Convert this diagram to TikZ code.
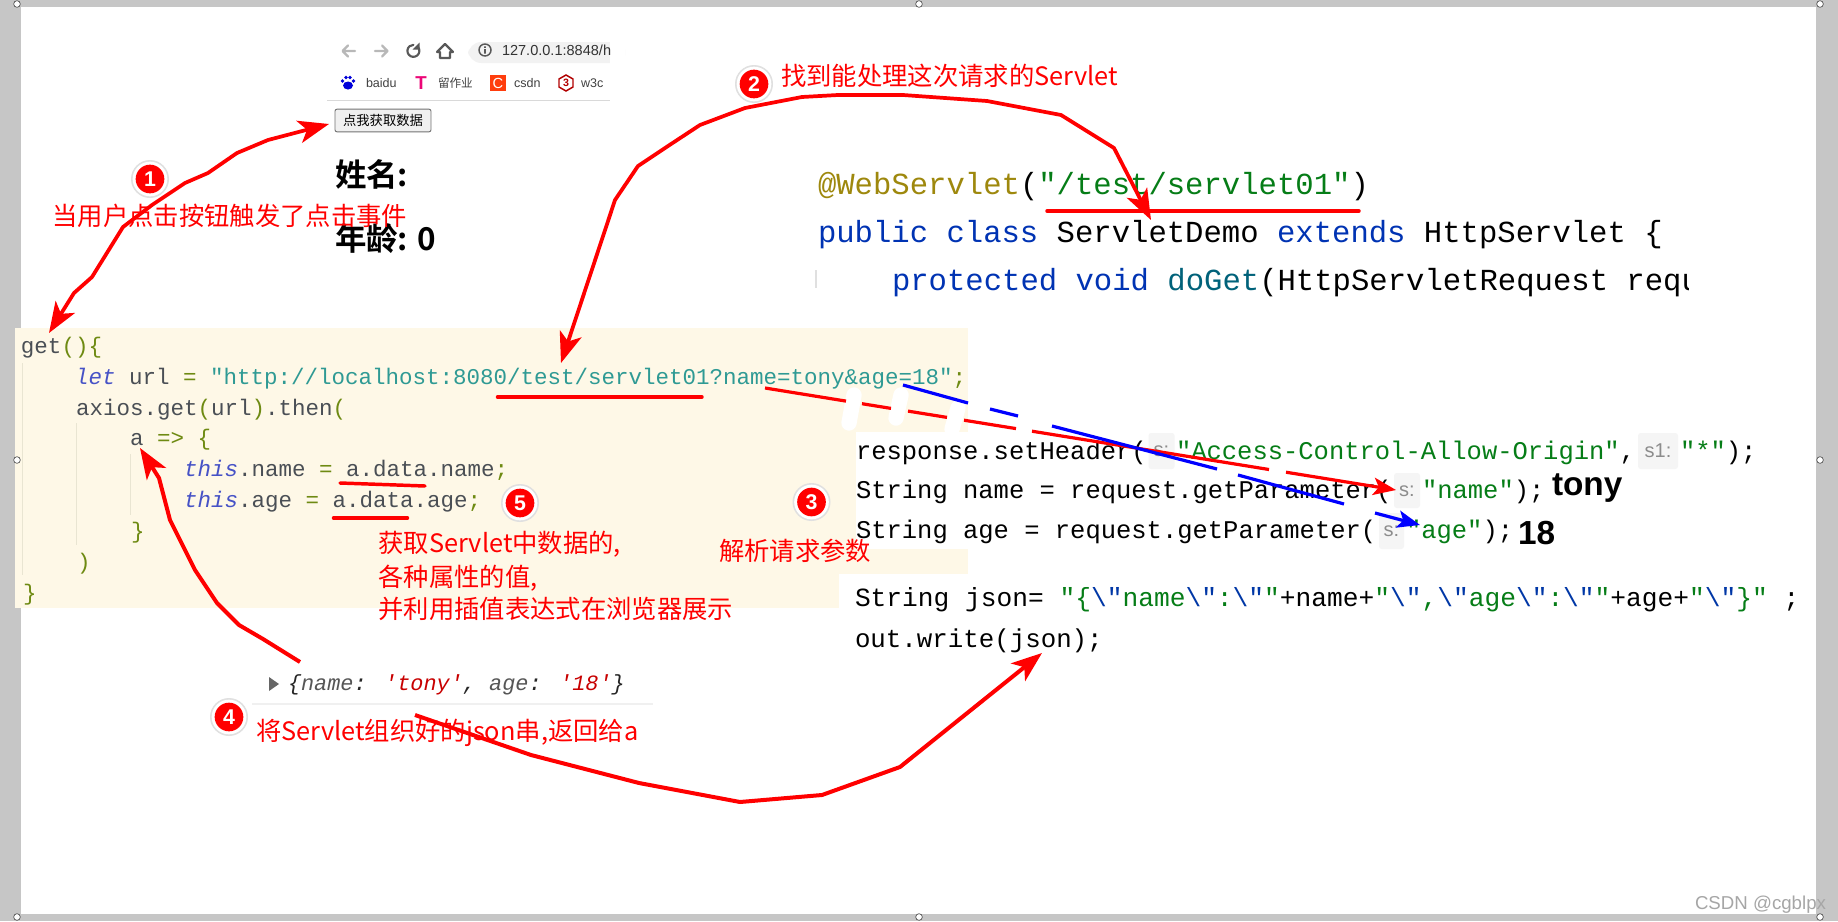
\documentclass[tikz,border=0pt]{standalone}
\usepackage{fontspec}
\usetikzlibrary{arrows.meta}
\newfontfamily\cjkf{Noto Sans CJK SC}
\newfontfamily\cjkb{Noto Sans CJK SC Bold}
\newfontfamily\codef{Liberation Mono}
\newfontfamily\arialf{Liberation Sans}
\definecolor{frame}{HTML}{C6C6C6}
\definecolor{cream}{HTML}{FEF8E7}
\definecolor{redline}{HTML}{FF0000}
\definecolor{blueline}{HTML}{0000FF}
\definecolor{lkw}{HTML}{4652C6}
\definecolor{lvar}{HTML}{4A4F55}
\definecolor{lolive}{HTML}{6E8A12}
\definecolor{lstr}{HTML}{2F9A94}
\definecolor{lguide}{HTML}{E9E5D2}
\definecolor{jgreen}{HTML}{067D17}
\definecolor{jblue}{HTML}{0033B3}
\definecolor{jesc}{HTML}{0037A6}
\definecolor{jann}{HTML}{9E880D}
\definecolor{jmeth}{HTML}{00627A}
\definecolor{chip}{HTML}{F5F5F5}
\definecolor{chiptxt}{HTML}{8C8C8C}
\definecolor{conred}{HTML}{C80000}
\definecolor{congray}{HTML}{565656}
\newcommand{\hlK}[1]{\textcolor{lkw}{\itshape #1}}
\newcommand{\hlV}[1]{\textcolor{lvar}{#1}}
\newcommand{\hlO}[1]{\textcolor{lolive}{#1}}
\newcommand{\hlS}[1]{\textcolor{lstr}{#1}}
\newcommand{\hlG}[1]{\textcolor{jgreen}{#1}}
\newcommand{\hlB}[1]{\textcolor{jblue}{#1}}
\newcommand{\hlQ}{\textcolor{jesc}{\textbackslash"}}
\tikzset{
  x=0.75pt,y=-0.75pt,
  txt/.style={anchor=base west,inner sep=0pt,outer sep=0pt},
  leftcode/.style={txt,font=\codef\fontsize{16.875}{20}\selectfont},
  topcode/.style={txt,font=\codef\fontsize{22.95}{26}\selectfont},
  midcode/.style={txt,font=\codef\fontsize{19.125}{22}\selectfont},
  lowcode/.style={txt,font=\codef\fontsize{19.35}{22}\selectfont},
  jsoncode/.style={txt,font=\codef\fontsize{19.67}{22}\selectfont},
  conscode/.style={txt,font=\codef\itshape\fontsize{16.4}{20}\selectfont},
  redlabel/.style={txt,text=redline,font=\cjkf\fontsize{19}{22}\selectfont},
  heading/.style={txt,font=\cjkb\fontsize{23.6}{26}\selectfont},
  bigbold/.style={txt,font=\arialf\bfseries\fontsize{25}{28}\selectfont},
  bkmark/.style={txt,text=black!75,font=\arialf\fontsize{9.4}{11}\selectfont},
  chipbox/.style={fill=chip,rounded corners=2pt,draw=none},
  chiptext/.style={anchor=center,inner sep=0pt,text=chiptxt,font=\arialf\fontsize{15}{18}\selectfont},
  handle/.style={circle,draw=black!70,fill=white,line width=0.5pt,inner sep=0pt,minimum size=5pt},
  underl/.style={draw=redline,line width=2.6pt,line cap=round},
  bigarrow/.style={draw=redline,line width=3pt,line join=round,-{Stealth[length=23pt,width=17pt,inset=6pt]}},
  bothways/.style={draw=redline,line width=2.8pt,line join=round,{Stealth[length=23pt,width=17pt,inset=6pt]}-{Stealth[length=23pt,width=17pt,inset=6pt]}},
  redseg/.style={draw=redline,line width=2.4pt},
  blueseg/.style={draw=blueline,line width=2.4pt},
  guide/.style={draw=lguide,line width=0.7pt},
  blob/.style={draw=white,line width=11.5pt,line cap=round},
  badgeouter/.style={circle,fill=black!12,inner sep=0pt,minimum size=28.5pt},
  badgeinner/.style={circle,fill=white,inner sep=0pt,minimum size=26pt},
  badgered/.style={circle,fill=redline,inner sep=0pt,minimum size=21.5pt,text=white,font=\arialf\bfseries\fontsize{16}{18}\selectfont},
  iconline/.style={line width=1.6pt,line cap=round,line join=round},
}
\newcommand{\badge}[3]{%
  \node[badgeouter] (#1o) at (#2) {};
  \node[badgeinner] (#1i) at (#2) {};
  \node[badgered] (#1) at (#2) {#3};}
\begin{document}
\begin{tikzpicture}
\useasboundingbox (0,0) rectangle (1838,921);
% frame
\fill[frame] (0,0) rectangle (1838,921);
\fill[white] (21,7) rectangle (1816,914);
% cream code area
\fill[cream] (15,328) rectangle (968,608);
\fill[white] (856,432) rectangle (980,549);
\fill[white] (839,574) rectangle (980,620);
% handles
\node[handle] (h1) at (17,4) {};
\node[handle] (h2) at (919,4) {};
\node[handle] (h3) at (1820,4) {};
\node[handle] (h4) at (17,460) {};
\node[handle] (h5) at (1820,460) {};
\node[handle] (h6) at (17,917) {};
\node[handle] (h7) at (919,917) {};
\node[handle] (h8) at (1820,917) {};
% browser chrome
\fill[black!5,rounded corners=10pt] (468,42) rectangle (625,63);
\fill[white] (610,38) rectangle (625,66);
\draw[black!28,iconline] (355,51) -- (343,51) (348,45.5) -- (342.5,51) -- (348,56.5);
\draw[black!28,iconline] (375,51) -- (387,51) (382,45.5) -- (387.5,51) -- (382,56.5);
\draw[black!65,iconline] (418,47) arc[start angle=40,end angle=-270,x radius=6,y radius=-6];
\fill[black!65] (419.5,42.5) -- (419.5,49.5) -- (412.5,49.5) -- cycle;
\draw[black!65,iconline] (445,44) -- (437,52) -- (440,52) -- (440,58) -- (450,58) -- (450,52) -- (453,52) -- cycle;
\draw[black!65,line width=1.1pt] (485,50) circle[radius=6];
\fill[black!65] (484.2,49) rectangle (485.8,53.5) (484.2,46.3) rectangle (485.8,47.8);
\begin{scope}
\clip (495,35) rectangle (610,66);
\node[txt,text=black!80,font=\arialf\fontsize{10.9}{12}\selectfont] (urlbar) at (502,55) {127.0.0.1:8848/h};
\end{scope}
% bookmarks
\fill[blue!85!black] (348,85.5) ellipse[x radius=5,y radius=4] (342.5,81) circle[radius=1.8] (353.5,81) circle[radius=1.8] (346,77.5) circle[radius=1.8] (350,77.5) circle[radius=1.8];
\node[bkmark] (bk1) at (366,87) {baidu};
\node[anchor=center,inner sep=0pt,text=magenta!80!red,font=\arialf\bfseries\fontsize{14}{14}\selectfont] (tico) at (421,83) {T};
\node[bkmark,font=\cjkf\fontsize{8.7}{11}\selectfont] (bk2) at (438,87) {留作业};
\node[anchor=center,fill=orange!40!red!95!white,text=white,minimum width=12pt,minimum height=11.5pt,inner sep=0pt,font=\arialf\fontsize{11}{11}\selectfont] (cico) at (498,83) {C};
\node[bkmark] (bk3) at (514,87) {csdn};
\draw[red!70!black,line width=1.1pt] (566,75) -- (573,79) -- (573,87) -- (566,91) -- (559,87) -- (559,79) -- cycle;
\node[anchor=center,inner sep=0pt,text=red!70!black,font=\arialf\bfseries\fontsize{8}{8}\selectfont] (wico) at (566,83) {3};
\node[bkmark] (bk4) at (581,87) {w3c};
\draw[black!15,line width=0.8pt] (327,100.7) -- (610,100.7);
% button
\node[anchor=center,draw=black!55,fill=black!6,rounded corners=1.5pt,line width=0.7pt,minimum width=72pt,minimum height=17pt,inner sep=0pt,font=\cjkf\fontsize{10}{12}\selectfont] (btn) at (383,120.5) {点我获取数据};
\node[heading] (nm) at (335,186) {姓名:};
\node[heading] (ag) at (335,250) {年龄: 0};
% top code
\node[topcode] (t1) at (818,194) {\textcolor{jann}{@WebServlet}(\hlG{"/test/servlet01"})};
\node[topcode] (t2) at (818,242) {\hlB{public class} ServletDemo \hlB{extends} HttpServlet \{};
\draw[black!12,line width=0.8pt] (816,270) -- (816,288);
\begin{scope}
\clip (880,255) rectangle (1688,305);
\node[topcode] (t3) at (892,290) {\hlB{protected void} \textcolor{jmeth}{doGet}(HttpServletRequest requ};
\end{scope}
% guides
\draw[guide] (22,363) -- (22,575) (76.7,423) -- (76.7,545) (130.7,454) -- (130.7,515);
% left code
\node[leftcode] (l1) at (21,353.5) {\hlV{get}\hlO{()\{}};
\node[leftcode] (l2) at (75,384.2) {\hlK{let} \hlV{url} \hlO{=} \hlS{"http://localhost:8080/test/servlet01?name=tony\&age=18"}\hlO{;}};
\node[leftcode] (l3) at (76,415) {\hlV{axios.get}\hlO{(}\hlV{url}\hlO{)}\hlV{.then}\hlO{(}};
\node[leftcode] (l4) at (130,445.5) {\hlV{a} \hlO{=> \{}};
\node[leftcode] (l5) at (184,476) {\hlK{this}\hlV{.name} \hlO{=} \hlV{a.data.name}\hlO{;}};
\node[leftcode] (l6) at (184,507) {\hlK{this}\hlV{.age} \hlO{=} \hlV{a.data.age}\hlO{;}};
\node[leftcode] (l7) at (131,538) {\hlO{\}}};
\node[leftcode] (l8) at (77,569) {\hlO{)}};
\node[leftcode] (l9) at (23,600) {\hlO{\}}};
% chips
\fill[chipbox] (1148.5,433) rectangle (1174.6,469);
\fill[chipbox] (1638,433) rectangle (1678,469);
\fill[chipbox] (1394,473) rectangle (1420,508);
\fill[chipbox] (1379,513) rectangle (1404,549);
\node[chiptext] (c1) at (1161.5,451) {s:};
\node[chiptext] (c2) at (1658,451) {s1:};
\node[chiptext] (c3) at (1407,491) {s:};
\node[chiptext] (c4) at (1391.5,531) {s:};
% middle code
\node[midcode] (m1a) at (856,459) {response.setHeader(};
\node[midcode] (m1b) at (1176,459) {\hlG{"Access-Control-Allow-Origin"},};
\node[midcode] (m1c) at (1680,459) {\hlG{"*"});};
\node[midcode] (m2a) at (856,498.5) {String name = request.getParameter(};
\node[midcode] (m2b) at (1422,498.5) {\hlG{"name"});};
\node[bigbold] (tony) at (1552,495) {tony};
\node[midcode] (m3a) at (856,538.5) {String age = request.getParameter(};
\node[midcode] (m3b) at (1406,538.5) {\hlG{"age"});};
\node[bigbold] (eighteen) at (1518,544) {18};
\node[jsoncode] (m4) at (855,606) {String json= \hlG{"\{}\hlQ\hlG{name}\hlQ\hlG{:}\hlQ\hlG{"}+name+\hlG{"}\hlQ\hlG{,}\hlQ\hlG{age}\hlQ\hlG{:}\hlQ\hlG{"}+age+\hlG{"}\hlQ\hlG{\}"} ;};
\node[lowcode] (m5) at (855,647) {out.write(json);};
% console
\fill[black!60] (269,677) -- (279,684) -- (269,691) -- cycle;
\node[conscode] (cons) at (288,690) {\textcolor{black!85}{\{}\textcolor{congray}{name}\textcolor{black!85}{:} \textcolor{conred}{'tony'}\textcolor{black!85}{,} \textcolor{congray}{age}\textcolor{black!85}{:} \textcolor{conred}{'18'}\textcolor{black!85}{\}}};
\draw[black!6,line width=1pt] (252,704) -- (653,704);
% red labels
\node[redlabel] (lab1) at (52.5,225) {当用户点击按钮触发了点击事件};
\node[redlabel] (lab2) at (781,85.5) {找到能处理这次请求的Servlet};
\node[redlabel] (lab3) at (719,560) {解析请求参数};
\node[redlabel] (lab4) at (256,740.5) {将Servlet组织好的json串,返回给a};
\node[redlabel] (lab5a) at (378.5,552.5) {获取Servlet中数据的,};
\node[redlabel] (lab5b) at (378.5,586.5) {各种属性的值,};
\node[redlabel] (lab5c) at (378.5,618.5) {并利用插值表达式在浏览器展示};
% badges
\badge{b1}{150,179}{1}
\badge{b2}{754,84}{2}
\badge{b3}{811.5,502}{3}
\badge{b4}{229,717}{4}
\badge{b5}{520,503}{5}
% connector end coordinates
\coordinate (btnTip) at (329,124);
\coordinate (getTip) at (49,333);
\coordinate (urlTip) at (561,363);
\coordinate (demoTip) at (1151,220);
\coordinate (jsonStart) at (415,715);
\coordinate (jsonTip) at (1042,653);
\coordinate (consStart) at (300,662);
\coordinate (aTip) at (140,448);
\coordinate (redStart) at (765,388);
\coordinate (redTip) at (1396,490);
\coordinate (blueStart) at (903,385);
\coordinate (blueTip) at (1420,525);
% underlines
\coordinate (u1a) at (497.5,397); \coordinate (u1b) at (702,397);
\coordinate (u2a) at (340,483); \coordinate (u2b) at (425,486);
\coordinate (u3a) at (333.5,518); \coordinate (u3b) at (407.5,518);
\coordinate (u4a) at (1047,211); \coordinate (u4b) at (1359,211);
\draw[underl] (u1a) -- (u1b);
\draw[underl] (u2a) -- (u2b);
\draw[underl] (u3a) -- (u3b);
\draw[underl] (u4a) -- (u4b);
% curved red connectors
\draw[bothways] (btnTip) -- (268,140) -- (237,153) -- (208,173) -- (185,183) -- (152,205) -- (123,227) -- (92,277) -- (74,293) -- (getTip);
\draw[bothways] (urlTip) -- (615,200) -- (638,166) -- (665,148) -- (700,125) -- (745,108) -- (802,97) -- (838,95) -- (903,95) -- (987,101) -- (1061,115) -- (1114,148) -- (demoTip);
\draw[bigarrow] (jsonStart) -- (531,755) -- (639,783) -- (740,802) -- (822,795) -- (900,767) -- (jsonTip);
\draw[bigarrow] (consStart) -- (263,639) -- (239,625) -- (217,603) -- (195,570) -- (170,520) -- (159,478) -- (aTip);
% white strokes that break the two straight arrows
\draw[blob] (854,395) -- (849,423);
\draw[blob] (901,395) -- (896,418);
\draw[blob] (958,408) -- (952,429);
% straight broken connectors
\coordinate (r1) at (846,401.1); \coordinate (r2) at (862,403.7);
\coordinate (r3) at (891,408.4); \coordinate (r4) at (908,411.1);
\coordinate (r5) at (947,417.4); \coordinate (r6) at (964,420.2);
\coordinate (r7) at (1016,428.6); \coordinate (r8) at (1032,431.2);
\coordinate (r9) at (1269,469.5); \coordinate (r10) at (1286,472.2);
\draw[redseg] (redStart) -- (r1);
\draw[redseg] (r2) -- (r3);
\draw[redseg] (r4) -- (r5);
\draw[redseg] (r6) -- (r7);
\draw[redseg] (r8) -- (r9);
\draw[redseg,-{Stealth[length=17pt,width=13pt,inset=4pt]}] (r10) -- (redTip);
\coordinate (u1) at (968,403); \coordinate (u2) at (990,409);
\coordinate (u3) at (1018,416); \coordinate (u4) at (1052,426);
\coordinate (u5) at (1217,469); \coordinate (u6) at (1238,475);
\coordinate (u7) at (1344,504); \coordinate (u8) at (1375,513);
\draw[blueseg] (blueStart) -- (u1);
\draw[blueseg] (u2) -- (u3);
\draw[blueseg] (u4) -- (u5);
\draw[blueseg] (u6) -- (u7);
\draw[blueseg,-{Stealth[length=17pt,width=13pt,inset=4pt]}] (u8) -- (blueTip);
% watermark
\node[txt,text=black!35,font=\arialf\fontsize{14}{16}\selectfont] (wm) at (1695,909) {CSDN @cgblpx};
\end{tikzpicture}
\end{document}
